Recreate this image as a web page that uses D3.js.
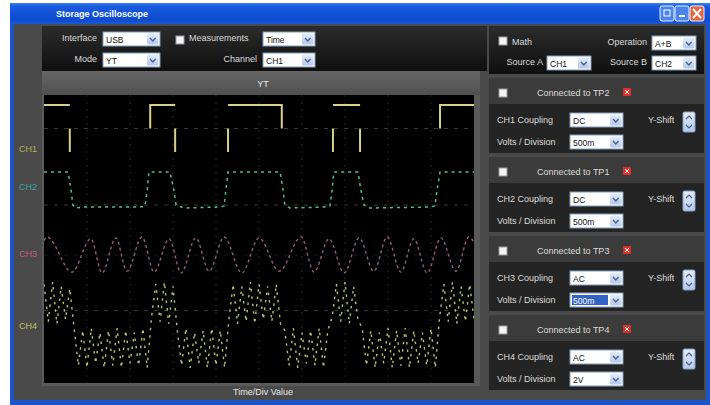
<!DOCTYPE html>
<html>
<head>
<meta charset="utf-8">
<script src="https://cdn.jsdelivr.net/npm/d3@7"></script>
<style>
  body { margin: 0; background: #fff; }
  text { font-family: 'Liberation Sans', 'DejaVu Sans', sans-serif; }
</style>
</head>
<body>
<div id="app"></div>
<script>
/* global d3 */

// Sweep: 10 divisions, 1 ms / div
const sweepMs = [0, 10];

// CH1 - square wave, drawn with gaps (null = pen up)
const ch1Time = [0, 0.60, null, 0.60, 0.60, null, 2.47, 2.47, 3.05, null, 3.05, 3.05, null,
  4.28, 4.28, null, 4.28, 5.53, 5.53, null, 6.72, 6.72, null, 6.72, 7.35, null, 7.35, 7.35, null,
  9.21, 9.21, 10];
const ch1Volt = [5, 5, null, 2.5, 0, null, 2.5, 5, 5, null, 2.5, 0, null,
  0, 2.5, null, 5, 5, 2.5, null, 0, 2.5, null, 5, 5, null, 2.5, 0, null,
  2.5, 5, 5];

// CH2 - filtered square wave
const ch2Time = [0, 0.56, 0.63, 0.67, 0.74, 0.91, 2.23, 2.35, 2.40, 2.44, 2.93, 3.02, 3.07, 3.26,
  4.09, 4.19, 4.23, 4.28, 5.49, 5.56, 5.60, 5.72, 6.53, 6.65, 6.70, 6.74, 7.30, 7.37, 7.44, 7.58,
  8.98, 9.09, 9.14, 9.21, 10];
const ch2Volt = [3.3, 3.3, 1.5, 0, -0.3, -0.2, -0.2, -0.1, 1.5, 3.3, 3.3, 1.5, 0, -0.3,
  -0.2, -0.1, 1.5, 3.3, 3.3, 1.5, 0, -0.3, -0.2, -0.1, 1.5, 3.3, 3.3, 1.5, 0, -0.3,
  -0.2, -0.1, 1.5, 3.3, 3.3];

// CH3 - sine, peaks and troughs
const ch3Time = [0, 0.07, 0.65, 1.09, 1.35, 1.67, 1.93, 2.28, 2.56, 2.91, 3.19, 3.53, 3.84, 4.19,
  4.60, 5.0, 5.47, 5.98, 6.28, 6.63, 6.98, 7.33, 7.67, 7.98, 8.30, 8.60, 8.91, 9.23, 9.58, 9.88, 10];
const ch3Volt = [0.8, 1, -0.95, 0.9, -1, 0.95, -0.9, 1, -0.95, 0.9, -1, 0.95, -0.9, 1,
  -1, 0.95, -0.9, 1, -0.95, 0.9, -1, 0.95, -0.9, 1, -0.95, 0.9, -1, 0.95, -0.9, 1, 0.7];

// CH4 - fast carrier riding on the CH1 level, one sample every 0.1 ms
const ch4Step = 0.1;
const ch4Volt = [
  3.9, 2.2, 4.0, 2.1, 3.8, 2.3, 3.7,
  1.9, 0.2, 1.8, 0.1, 1.9, 0.3, 1.7, 0.1, 1.8, 0.2, 1.9, 0.1, 1.8, 0.3, 1.7, 0.2, 1.9, 0.1,
  2.4, 3.9, 2.2, 4.0, 2.1, 3.8,
  1.8, 0.2, 1.9, 0.1, 1.7, 0.3, 1.8, 0.1, 1.9, 0.2, 1.8, 0.1,
  2.3, 3.9, 2.1, 3.8, 2.2, 4.0, 2.1, 3.9, 2.3, 3.8, 2.2, 3.9, 2.1,
  1.8, 0.2, 1.9, 0.1, 1.7, 0.3, 1.8, 0.2, 1.9, 0.1, 1.8,
  2.4, 3.9, 2.2, 4.0, 2.1, 3.8, 2.3,
  1.9, 0.2, 1.8, 0.1, 1.7, 0.3, 1.9, 0.1, 1.8, 0.2, 1.9, 0.1, 1.8, 0.3, 1.7, 0.2, 1.9, 0.1,
  2.4, 3.9, 2.2, 4.0, 2.1, 3.8, 2.2, 3.9, 2.3,
];

// Channel labels and reference (ground) levels
const chNames = ['CH1', 'CH2', 'CH3', 'CH4'];
const chRefVolt = [2.5, 0, 0, 2.7];

// Control panel texts
const tpNames = ['Connected to TP2', 'Connected to TP1', 'Connected to TP3', 'Connected to TP4'];
const couplings = ['DC', 'DC', 'AC', 'AC'];
const voltsDiv = ['500m', '500m', '500m', '2V'];

// Layout
const width = 710;
const height = 405;
const plot = { left: 44, right: 474, top: 95, bottom: 383 };
const traceColor = ['#d6d08a', '#52bca6', '#8e5e7c', '#aec872'];
const labelColor = ['#b8b254', '#35a6a6', '#cc5a78', '#bfc566'];

const xScale = d3.scaleLinear().domain(sweepMs).range([plot.left, plot.right]);
// each channel has its own vertical position on the screen
const yScales = [
  d3.scaleLinear().domain([0, 5]).range([152, 105]),
  d3.scaleLinear().domain([0, 3.3]).range([205, 172]),
  d3.scaleLinear().domain([-1, 1]).range([273, 237]),
  d3.scaleLinear().domain([0, 4]).range([370, 282]),
];

const svg = d3.select('#app').append('svg')
  .attr('width', width)
  .attr('height', height);

const defs = svg.append('defs');
function vGrad(id, stops) {
  const g = defs.append('linearGradient').attr('id', id)
    .attr('x1', 0).attr('y1', 0).attr('x2', 0).attr('y2', 1);
  stops.forEach((s) => g.append('stop').attr('offset', s[0]).attr('stop-color', s[1]));
}
vGrad('titleGrad', [[0, '#3a82f4'], [0.15, '#1a5ce0'], [0.8, '#0d4ad0'], [1, '#1b5ad8']]);
vGrad('panelGrad', [[0, '#2c2c2c'], [1, '#0f0f0f']]);
vGrad('btnGrad', [[0, '#e4ecfb'], [1, '#b4c8ee']]);
vGrad('barGrad', [[0, '#666'], [1, '#505050']]);

// Window frame
svg.append('rect').attr('x', 10).attr('y', 3).attr('width', 700).attr('height', 402)
  .attr('fill', '#1d55c6');
svg.append('rect').attr('x', 14).attr('y', 24).attr('width', 692).attr('height', 376)
  .attr('fill', '#4a4a4a');
svg.append('rect').attr('x', 10).attr('y', 3).attr('width', 700).attr('height', 21)
  .attr('fill', 'url(#titleGrad)');
svg.append('text').attr('x', 56).attr('y', 17)
  .attr('fill', '#fff').attr('font-size', 9).attr('font-weight', 'bold')
  .text('Storage Oscilloscope');

// title bar buttons
[[660, '#4a84ec'], [675, '#4a84ec'], [690, '#e2653c']].forEach(([bx, c]) => {
  svg.append('rect').attr('x', bx).attr('y', 6).attr('width', 14).attr('height', 15).attr('rx', 2)
    .attr('fill', c).attr('stroke', '#e8f0ff').attr('stroke-width', 1);
});
svg.append('rect').attr('x', 664).attr('y', 10).attr('width', 6).attr('height', 6)
  .attr('fill', 'none').attr('stroke', '#fff');
svg.append('rect').attr('x', 679).attr('y', 15).attr('width', 6).attr('height', 2).attr('fill', '#fff');
svg.append('path').attr('d', 'M693,9 L701,18 M701,9 L693,18').attr('stroke', '#fff').attr('stroke-width', 2);

// Helpers for the little widgets
function label(x, y, txt, anchor = 'start', color = '#dcdcdc') {
  svg.append('text').attr('x', x).attr('y', y)
    .attr('text-anchor', anchor).attr('font-size', 9).attr('fill', color)
    .text(txt);
}
function combo(x, y, w, txt, selected) {
  const g = svg.append('g').attr('transform', `translate(${x},${y})`);
  g.append('rect').attr('width', w).attr('height', 14)
    .attr('fill', '#fff').attr('stroke', '#7f9db9');
  if (selected) {
    g.append('rect').attr('x', 2).attr('y', 2).attr('width', w - 17).attr('height', 10).attr('fill', '#3163c5');
  }
  g.append('text').attr('x', 3).attr('y', 10.5).attr('font-size', 8.5)
    .attr('fill', selected ? '#fff' : '#111').text(txt);
  g.append('rect').attr('x', w - 13).attr('y', 1.5).attr('width', 11.5).attr('height', 11)
    .attr('rx', 1.5).attr('fill', 'url(#btnGrad)');
  g.append('path').attr('d', `M${w - 10},6 L${w - 7.2},9 L${w - 4.4},6`)
    .attr('fill', 'none').attr('stroke', '#4d6185').attr('stroke-width', 1.4);
}
function checkbox(x, y) {
  svg.append('rect').attr('x', x).attr('y', y).attr('width', 8).attr('height', 8)
    .attr('fill', '#f4f4f4').attr('stroke', '#9a9a9a');
}

// Top control panel
svg.append('rect').attr('x', 42).attr('y', 26).attr('width', 445).attr('height', 45)
  .attr('fill', 'url(#panelGrad)');
label(97, 41, 'Interface', 'end');
combo(103, 32, 57, 'USB');
label(97, 62, 'Mode', 'end');
combo(103, 53, 57, 'YT');
checkbox(176, 36);
label(189, 41, 'Measurements');
combo(263, 32, 52, 'Time');
label(257, 62, 'Channel', 'end');
combo(263, 53, 52, 'CH1');

// Scope frame
svg.append('rect').attr('x', 42).attr('y', 71).attr('width', 438).attr('height', 315)
  .attr('fill', '#595959');
svg.append('rect').attr('x', 42).attr('y', 71).attr('width', 438).attr('height', 24)
  .attr('fill', 'url(#barGrad)');
label(263, 87, 'YT', 'middle', '#e8e8e8');
label(263, 395, 'Time/Div Value', 'middle', '#e8e8e8');

svg.append('rect').attr('x', plot.left).attr('y', plot.top)
  .attr('width', plot.right - plot.left).attr('height', plot.bottom - plot.top)
  .attr('fill', '#000');

svg.append('clipPath').attr('id', 'plotClip').append('rect')
  .attr('x', plot.left).attr('y', plot.top)
  .attr('width', plot.right - plot.left).attr('height', plot.bottom - plot.top);
const screen = svg.append('g').attr('clip-path', 'url(#plotClip)');

// graticule
screen.selectAll('.vgrid')
  .data(xScale.ticks(10).slice(1, -1))
  .join('line')
  .attr('x1', (d) => xScale(d)).attr('x2', (d) => xScale(d))
  .attr('y1', plot.top).attr('y2', plot.bottom)
  .attr('stroke', '#262626').attr('stroke-dasharray', '2,5');
screen.selectAll('.ref')
  .data(chRefVolt)
  .join('line')
  .attr('x1', plot.left).attr('x2', plot.right)
  .attr('y1', (d, i) => yScales[i](d)).attr('y2', (d, i) => yScales[i](d))
  .attr('stroke', (d, i) => (i === 2 ? '#1a1a1a' : '#3a3a3a'))
  .attr('stroke-dasharray', '4,6');

// channel labels
chNames.forEach((n, i) => {
  const yPos = [152, 190, 257, 329][i];
  label(28, yPos, n, 'middle', labelColor[i]);
});

// traces
function traceLine(yS, curve) {
  return d3.line()
    .defined((d) => d[0] !== null && d[1] !== null)
    .x((d) => xScale(d[0]))
    .y((d) => yS(d[1]))
    .curve(curve || d3.curveLinear);
}

const ch1 = ch1Time.map((t, i) => [t, ch1Volt[i]]);
const ch2 = ch2Time.map((t, i) => [t, ch2Volt[i]]);
const ch3 = ch3Time.map((t, i) => [t, ch3Volt[i]]);
const ch4 = ch4Volt.map((v, i) => [i * ch4Step, v]);

screen.append('path').datum(ch1)
  .attr('d', traceLine(yScales[0]))
  .attr('fill', 'none').attr('stroke', traceColor[0]).attr('stroke-width', 2);
screen.append('path').datum(ch2)
  .attr('d', traceLine(yScales[1]))
  .attr('fill', 'none').attr('stroke', traceColor[1]).attr('stroke-width', 1.5)
  .attr('stroke-dasharray', '3,4');
screen.append('path').datum(ch3)
  .attr('d', traceLine(yScales[2], d3.curveMonotoneX))
  .attr('fill', 'none').attr('stroke', traceColor[2]).attr('stroke-width', 1.4)
  .attr('stroke-dasharray', '3,3');
screen.append('path').datum(ch4)
  .attr('d', traceLine(yScales[3]))
  .attr('fill', 'none').attr('stroke', traceColor[3]).attr('stroke-width', 1.4)
  .attr('stroke-dasharray', '2.5,5');

// Math panel
svg.append('rect').attr('x', 489).attr('y', 26).attr('width', 215).attr('height', 48)
  .attr('fill', 'url(#panelGrad)');
checkbox(499, 37);
label(512, 45, 'Math');
label(647, 45, 'Operation', 'end');
combo(652, 36, 44, 'A+B');
label(543, 65, 'Source A', 'end');
combo(547, 56, 44, 'CH1');
label(647, 65, 'Source B', 'end');
combo(652, 56, 44, 'CH2');

// Channel panels
const boxTop = [78, 157, 236, 315];
boxTop.forEach((y0, i) => {
  svg.append('rect').attr('x', 489).attr('y', y0).attr('width', 215).attr('height', 75)
    .attr('fill', '#242424');
  svg.append('rect').attr('x', 489).attr('y', y0).attr('width', 215).attr('height', 26)
    .attr('fill', '#3b3b3b');
  checkbox(499, y0 + 11);
  label(537, y0 + 18, tpNames[i]);
  svg.append('rect').attr('x', 623).attr('y', y0 + 10).attr('width', 8).attr('height', 8)
    .attr('fill', '#d8302c');
  svg.append('path')
    .attr('d', `M625,${y0 + 12} L629,${y0 + 16} M629,${y0 + 12} L625,${y0 + 16}`)
    .attr('stroke', '#fff').attr('stroke-width', 1);
  label(497, y0 + 45, `${chNames[i]} Coupling`);
  combo(570, y0 + 35, 53, couplings[i]);
  label(497, y0 + 67, 'Volts / Division');
  combo(570, y0 + 57, 53, voltsDiv[i], i === 2);
  label(648, y0 + 45, 'Y-Shift');
  const sp = svg.append('g').attr('transform', `translate(683,${y0 + 34})`);
  sp.append('rect').attr('width', 12).attr('height', 20).attr('rx', 1.5)
    .attr('fill', 'url(#btnGrad)').attr('stroke', '#8aa0c4');
  sp.append('path').attr('d', 'M3,7 L6,4 L9,7 M3,13 L6,16 L9,13')
    .attr('fill', 'none').attr('stroke', '#4d6185').attr('stroke-width', 1.2);
});
</script>
</body>
</html>
